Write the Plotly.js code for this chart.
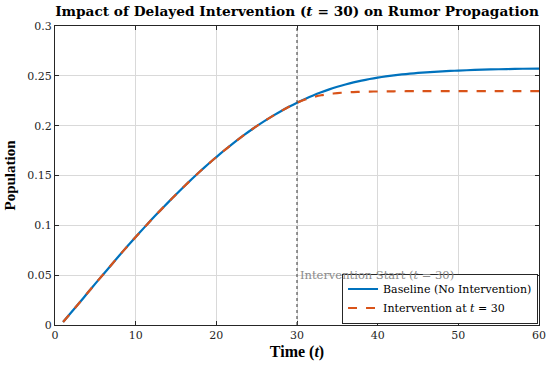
<!DOCTYPE html>
<html><head><meta charset="utf-8">
<script src="https://cdn.plot.ly/plotly-3.0.1.min.js"></script>
<style>body{margin:0;background:#fff}#c{width:550px;height:370px}</style>
</head><body><div id="c"></div>
<script>
const interventionT = 30;
const tBase = [1,2,3,4,5,6,7,8,9,10,11,12,13,14,15,16,17,18,19,20,21,22,23,24,25,26,27,28,29,30,31,32,33,34,35,36,37,38,39,40,41,42,43,44,45,46,47,48,49,50,52,54,56,58,60];
const yBase = [0.003,0.0125,0.022,0.0318,0.0415,0.051,0.0605,0.070,0.0792,0.0883,0.0972,0.106,0.1145,0.1228,0.131,0.139,0.1467,0.1542,0.1615,0.1685,0.1753,0.1818,0.188,0.1939,0.1995,0.2048,0.2098,0.2145,0.2189,0.223,0.2268,0.2303,0.2335,0.2364,0.239,0.2413,0.2434,0.2452,0.2468,0.2482,0.2494,0.2505,0.2514,0.2522,0.2529,0.2535,0.254,0.2545,0.2549,0.2553,0.2559,0.2564,0.2568,0.2571,0.2573];
const tInt = [1,2,3,4,5,6,7,8,9,10,11,12,13,14,15,16,17,18,19,20,21,22,23,24,25,26,27,28,29,30,31,32,33,34,35,36,37,38,39,40,42,45,50,55,60];
const yInt = [0.003,0.0125,0.022,0.0318,0.0415,0.051,0.0605,0.070,0.0792,0.0883,0.0972,0.106,0.1145,0.1228,0.131,0.139,0.1467,0.1542,0.1615,0.1685,0.1753,0.1818,0.188,0.1939,0.1995,0.2048,0.2098,0.2145,0.2189,0.223,0.2262,0.2287,0.2305,0.2318,0.2327,0.2333,0.2337,0.234,0.2342,0.2343,0.2345,0.2346,0.2347,0.2347,0.2347];
const xTicks = [0,10,20,30,40,50,60];
const yTicks = [0,0.05,0.1,0.15,0.2,0.25,0.3];
const yTickText = ['0','0.05','0.1','0.15','0.2','0.25','0.3'];

const serif = 'DejaVu Serif, Liberation Serif, serif';
const lserif = 'Liberation Serif, DejaVu Serif, serif';
const traces = [
  {x:tBase, y:yBase, mode:'lines', name:'Baseline (No Intervention)', line:{color:'#0072BD', width:2.2, shape:'spline', smoothing:0.6}},
  {x:tInt, y:yInt, mode:'lines', name:'Intervention at <i>t</i> = 30', line:{color:'#D95319', width:2.2, dash:'dash', shape:'spline', smoothing:0.6}}
];
const axisCommon = {
  showline:true, mirror:'ticks', linecolor:'#262626', linewidth:1,
  ticks:'inside', ticklen:4, tickcolor:'#262626',
  showgrid:true, gridcolor:'#d9d9d9', gridwidth:1, zeroline:false,
  tickfont:{family:serif, size:11, color:'#262626'}
};
const layout = {
  width:550, height:370,
  margin:{l:55, r:11, t:26, b:45},
  paper_bgcolor:'#fff', plot_bgcolor:'#fff',
  title:{text:'<b>Impact of Delayed Intervention (<i>t</i> = 30) on Rumor Propagation</b>', font:{family:serif, size:13.7, color:'#000'}, x:0.54, xanchor:'center', y:0.97, yanchor:'middle'},
  xaxis:Object.assign({}, axisCommon, {range:[0,60], tickvals:xTicks, title:{text:'<b>Time (<i>t</i>)</b>', font:{family:lserif, size:16, color:'#000'}, standoff:4}}),
  yaxis:Object.assign({}, axisCommon, {range:[0,0.3], tickvals:yTicks, ticktext:yTickText, title:{text:'<b>Population</b>', font:{family:lserif, size:15, color:'#000'}, standoff:8}}),
  showlegend:true,
  legend:{x:0.998, y:0.005, xanchor:'right', yanchor:'bottom', bgcolor:'#fff', bordercolor:'#262626', borderwidth:1, font:{family:serif, size:11, color:'#000'}, tracegroupgap:0, itemwidth:30},
  shapes:[{type:'line', xref:'x', yref:'paper', x0:interventionT, x1:interventionT, y0:0, y1:1, line:{color:'#555', width:1.2, dash:'dot'}}],
  annotations:[{xref:'x', yref:'y', x:interventionT, y:0.05, text:'Intervention Start (<i>t</i> = 30)', showarrow:false, xanchor:'left', yanchor:'middle', xshift:1, font:{family:serif, size:11.5, color:'#8a8a8a'}}]
};
Plotly.newPlot('c', traces, layout, {displayModeBar:false, staticPlot:true});
</script></body></html>
